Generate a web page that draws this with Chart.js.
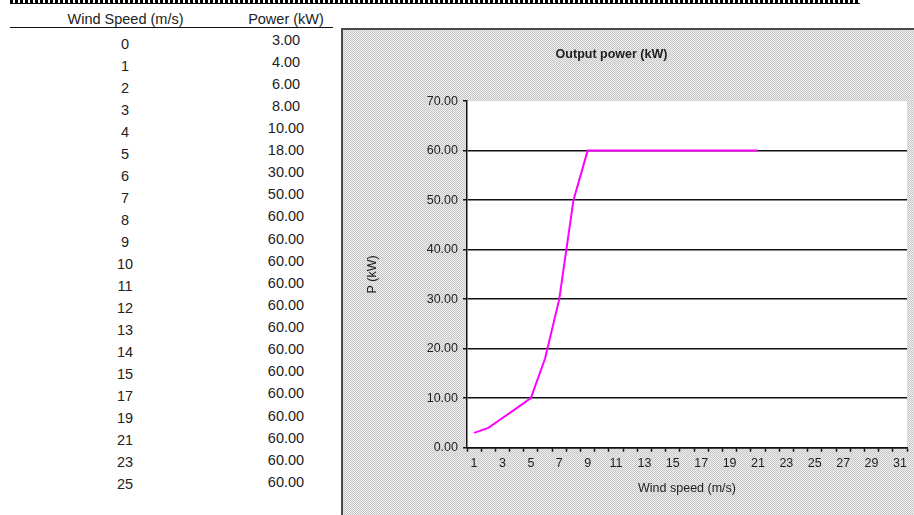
<!DOCTYPE html>
<html>
<head>
<meta charset="utf-8">
<script src="https://cdn.jsdelivr.net/npm/chart.js@4/dist/chart.umd.min.js"></script>
<style>
  html, body { margin: 0; padding: 0; background: #fff; }
  body { width: 914px; height: 515px; position: relative; overflow: hidden;
         font-family: "Liberation Sans", Arial, sans-serif; color: #222; }
  .ants { position: absolute; left: 10px; top: 0; width: 850px; height: 3px;
          background: repeating-linear-gradient(90deg, #000 0 3px, #fff 3px 5px);
          border-bottom: 1px solid #000; }
  .cell { position: absolute; height: 22px; line-height: 22px; font-size: 14.5px;
          text-align: center; white-space: nowrap; }
  .rule { position: absolute; left: 10px; top: 26.5px; width: 323px; height: 1.5px; background: #111; }
  .panel { position: absolute; left: 341px; top: 28px; width: 600px; height: 520px;
           border-left: 2px solid #4a4a4a; border-top: 2px solid #4a4a4a;
           background-color: #dadada;
           background-image: repeating-conic-gradient(#c6c6c6 0 25%, #efefef 0 50%);
           background-size: 2px 2px; }
  #wrap { position: absolute; left: 316px; top: 30px; width: 598px; height: 485px; }
</style>
</head>
<body>
<div class="ants"></div>
<div id="table"></div>
<div class="panel"></div>
<div id="wrap"><canvas id="c"></canvas></div>
<script>
// Turbine power curve: wind speed (m/s) and output (kW)
const windSpeed = [0, 1, 2, 3, 4, 5, 6, 7, 8, 9, 10, 11, 12, 13, 14, 15, 17, 19, 21, 23, 25];
const powerKW = [3, 4, 6, 8, 10, 18, 30, 50, 60, 60, 60, 60, 60, 60, 60, 60, 60, 60, 60, 60, 60];
// Category axis of the chart
const categoryLabels = ['1', '2', '3', '4', '5', '6', '7', '8', '9', '10', '11', '12', '13', '14', '15', '16',
  '17', '18', '19', '20', '21', '22', '23', '24', '25', '26', '27', '28', '29', '30', '31'];
const yTicks = [0, 10, 20, 30, 40, 50, 60, 70];
const tableHeaders = ['Wind Speed (m/s)', 'Power (kW)'];

// Worksheet table
const table = document.getElementById('table');
function addCell(text, cx, cy, w) {
  const d = document.createElement('div');
  d.className = 'cell';
  d.textContent = text;
  d.style.left = (cx - w / 2) + 'px';
  d.style.top = (cy - 11) + 'px';
  d.style.width = w + 'px';
  table.appendChild(d);
}
addCell(tableHeaders[0], 125.5, 19, 160);
addCell(tableHeaders[1], 286, 19, 100);
const rule = document.createElement('div');
rule.className = 'rule';
table.appendChild(rule);
windSpeed.forEach((w, i) => addCell(String(w), 125, 43.5 + 22.03 * i, 60));
powerKW.forEach((p, i) => addCell(p.toFixed(2), 286, 39.5 + 22.12 * i, 60));

// White plot area behind the series
const plotFill = {
  id: 'plotFill',
  beforeDraw(chart) {
    const { ctx, chartArea: a } = chart;
    ctx.save();
    ctx.fillStyle = '#ffffff';
    ctx.fillRect(a.left, a.top, a.right - a.left, a.bottom - a.top);
    ctx.restore();
  }
};

const fontFamily = '"Liberation Sans", Arial, sans-serif';
Chart.defaults.font.family = fontFamily;
Chart.defaults.color = '#1e1e1e';

new Chart(document.getElementById('c'), {
  type: 'line',
  data: {
    labels: categoryLabels,
    datasets: [{
      label: 'Output power (kW)',
      data: powerKW,
      borderColor: '#ff00ff',
      borderWidth: 2,
      pointRadius: 0,
      tension: 0,
      fill: false
    }]
  },
  options: {
    responsive: true,
    maintainAspectRatio: false,
    animation: false,
    layout: { padding: { left: 0, right: 7, top: 0, bottom: 0 } },
    plugins: {
      legend: { display: false },
      tooltip: { enabled: false },
      title: {
        display: true,
        text: 'Output power (kW)',
        font: { size: 12.5, weight: 'bold' },
        color: '#1e1e1e',
        padding: { top: 17.5, bottom: 38.6 }
      }
    },
    scales: {
      x: {
        type: 'category',
        offset: true,
        grid: {
          display: true,
          drawOnChartArea: false,
          offset: true,
          tickLength: 4,
          tickColor: '#111',
          tickWidth: 1.5
        },
        border: { display: true, color: '#111', width: 1.5 },
        ticks: {
          autoSkip: false,
          maxRotation: 0,
          minRotation: 0,
          padding: 4.5,
          font: { size: 12.5 },
          color: '#1e1e1e',
          callback: (v, i) => (i % 2 === 0 ? categoryLabels[i] : '')
        },
        title: {
          display: true,
          text: 'Wind speed (m/s)',
          font: { size: 12.5 },
          color: '#1e1e1e',
          padding: { top: 4, bottom: 18.5 }
        },
        afterFit(scale) { scale.height = 67.3; }
      },
      y: {
        min: 0,
        max: 70,
        afterBuildTicks(scale) { scale.ticks = yTicks.map(v => ({ value: v })); },
        grid: {
          color: c => (c.index === yTicks.length - 1 ? 'rgba(0,0,0,0)' : '#111'),
          lineWidth: 1.5,
          tickLength: 4,
          tickColor: '#111',
          tickWidth: 1.5
        },
        border: { display: true, color: '#111', width: 1.5 },
        ticks: {
          padding: 5,
          font: { size: 12.5 },
          color: '#1e1e1e',
          callback: v => Number(v).toFixed(2)
        },
        title: {
          display: true,
          text: 'P (kW)',
          font: { size: 12.5 },
          color: '#1e1e1e',
          padding: { top: 49.5, bottom: 0 }
        },
        afterFit(scale) { scale.width = 151; }
      }
    }
  },
  plugins: [plotFill]
});
</script>
</body>
</html>
